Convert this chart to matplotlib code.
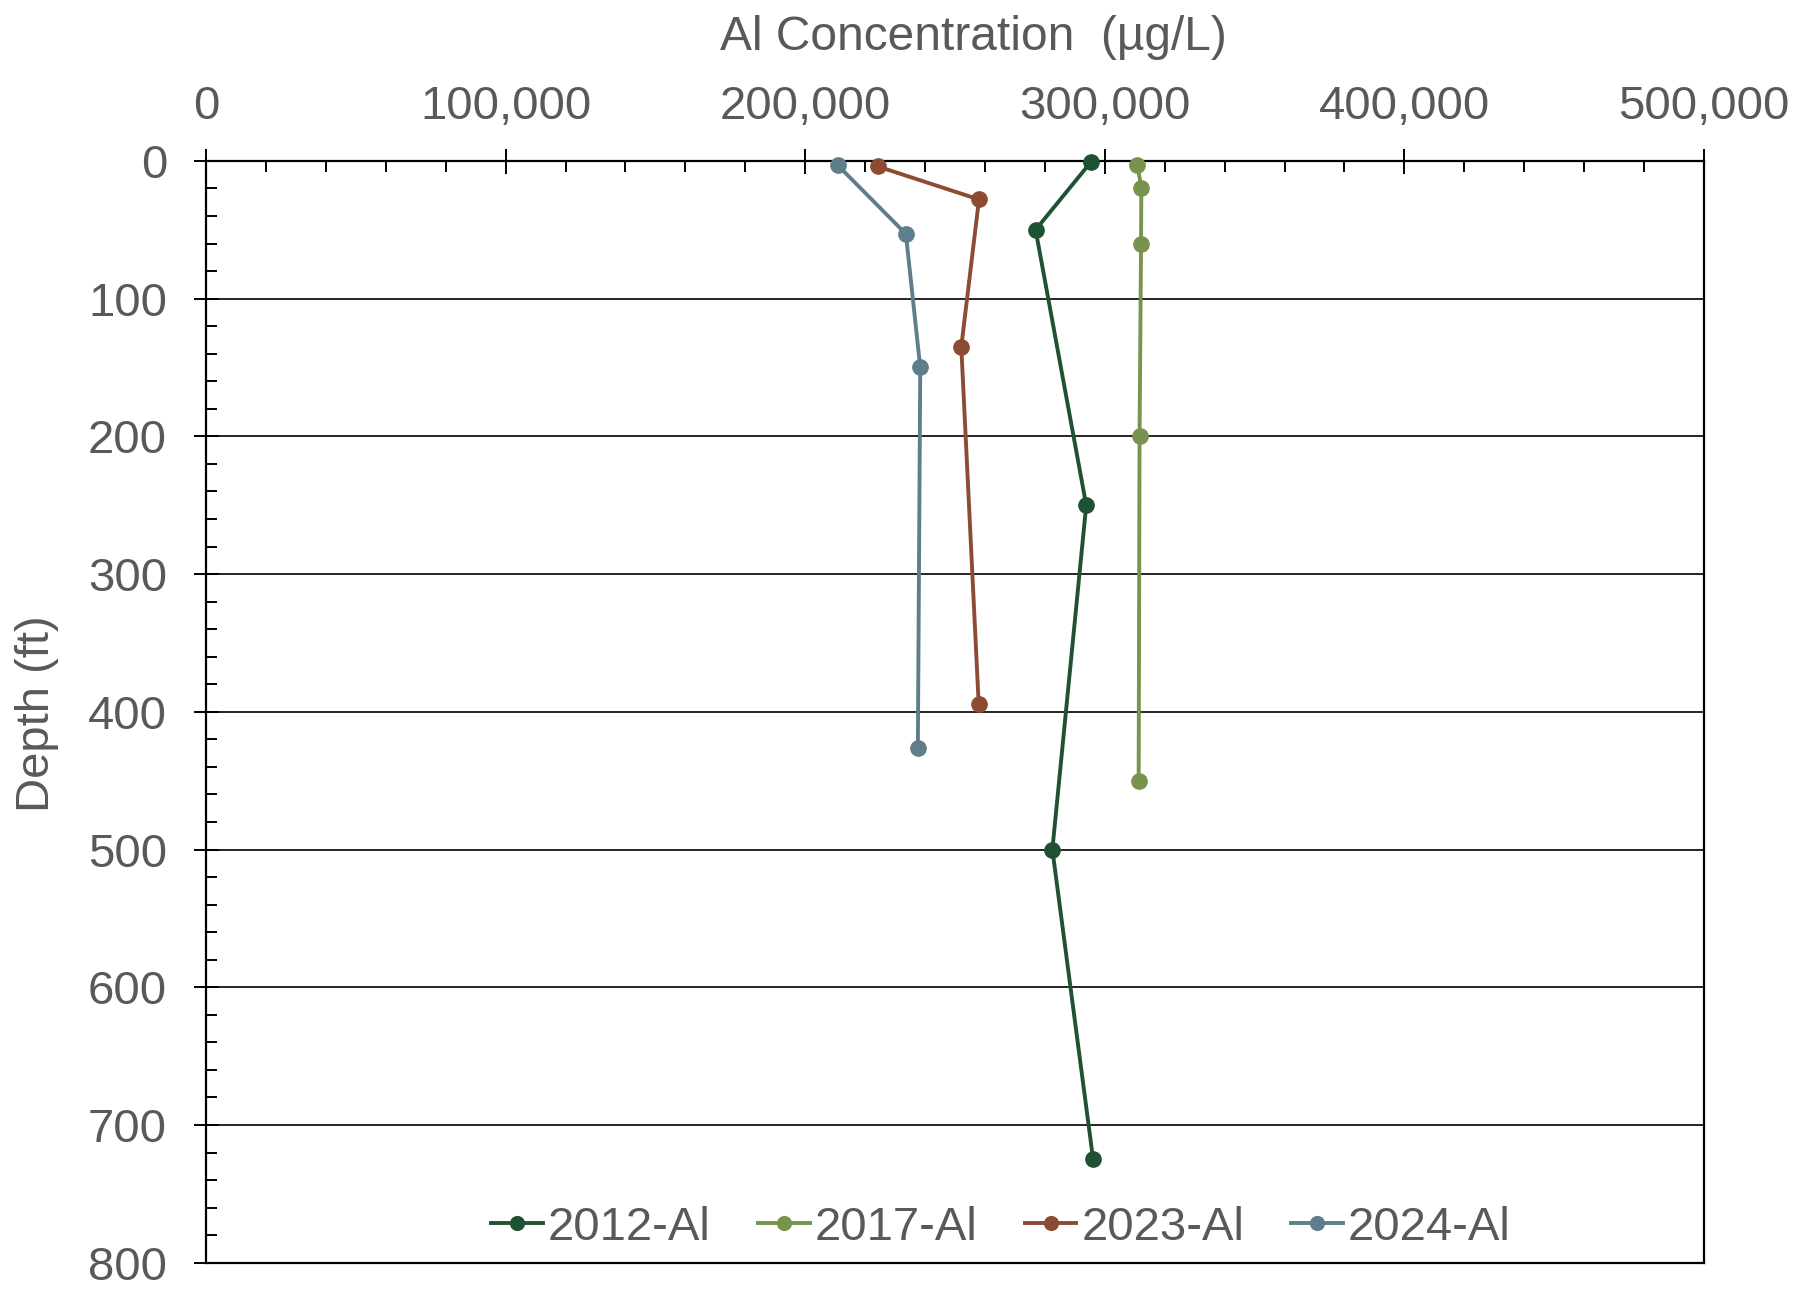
import matplotlib
matplotlib.use("Agg")
import matplotlib.pyplot as plt
from matplotlib.ticker import MultipleLocator, FuncFormatter

# ---- data ----
series_names = ["2012-Al", "2017-Al", "2023-Al", "2024-Al"]
conc_2012 = [295300, 276900, 293800, 282500, 296100]
depth_2012 = [1, 50, 250, 500, 725]
conc_2017 = [310900, 312200, 312100, 311600, 311300]
depth_2017 = [3, 20, 60, 200, 450]
conc_2023 = [224200, 258000, 252100, 257900]
depth_2023 = [4, 28, 135, 394]
conc_2024 = [210800, 233600, 238400, 237600]
depth_2024 = [3, 53, 150, 426]
colors = ["#1F5133", "#77934D", "#8C4B33", "#5F7D8A"]

plt.rcParams['font.family'] = ['Liberation Sans', 'DejaVu Sans']
gray = "#595959"

W, H = 1806, 1290
fig = plt.figure(figsize=(W / 100, H / 100), dpi=100)
left, right, top, bottom = 206, 1704, 160.9, 1262.7
ax = fig.add_axes([left / W, 1 - bottom / H, (right - left) / W, (bottom - top) / H])

data = [(conc_2012, depth_2012), (conc_2017, depth_2017),
        (conc_2023, depth_2023), (conc_2024, depth_2024)]
for (x, y), name, c in zip(data, series_names, colors):
    ax.plot(x, y, color=c, lw=2.8, marker='o', markersize=11, label=name,
            zorder=3, clip_on=False)

ax.set_xlim(0, 500000)
ax.set_ylim(800, 0)
ax.xaxis.tick_top()
ax.xaxis.set_major_locator(MultipleLocator(100000))
ax.xaxis.set_minor_locator(MultipleLocator(20000))
ax.yaxis.set_major_locator(MultipleLocator(100))
ax.yaxis.set_minor_locator(MultipleLocator(20))
ax.xaxis.set_major_formatter(FuncFormatter(lambda v, p: f"{int(v):,}"))

ax.tick_params(axis='x', which='major', direction='inout', length=18, width=1.4,
               pad=14, labelsize=34, labelcolor=gray, top=True, bottom=False)
ax.tick_params(axis='x', which='minor', direction='in', length=8, width=1.4,
               top=True, bottom=False)
ax.tick_params(axis='y', which='major', direction='inout', length=18, width=1.4,
               pad=19, labelsize=34, labelcolor=gray, left=True, right=False)
ax.tick_params(axis='y', which='minor', direction='in', length=8, width=1.4,
               left=True, right=False)

for s in ax.spines.values():
    s.set_linewidth(1.6)
    s.set_color('black')

ax.grid(axis='y', which='major', color='black', lw=1.2, zorder=1)
ax.set_axisbelow(True)

fig.text(973.5 / W, 1 - 50 / H, "Al Concentration  (µg/L)", ha='center',
         va='baseline', fontsize=34.5, color=gray)
fig.text(37 / W, 1 - 714 / H, "Depth (ft)", ha='center', va='center',
         rotation=90, fontsize=34, color=gray)

leg = fig.legend(loc='center', bbox_to_anchor=(1001 / W, 1 - 1228 / H), ncol=4,
                 frameon=False, fontsize=34, handlelength=1.1, handletextpad=0.1,
                 columnspacing=1.0, borderaxespad=0, markerscale=0.9)
for t in leg.get_texts():
    t.set_color(gray)

fig.savefig("out.png", dpi=100)
